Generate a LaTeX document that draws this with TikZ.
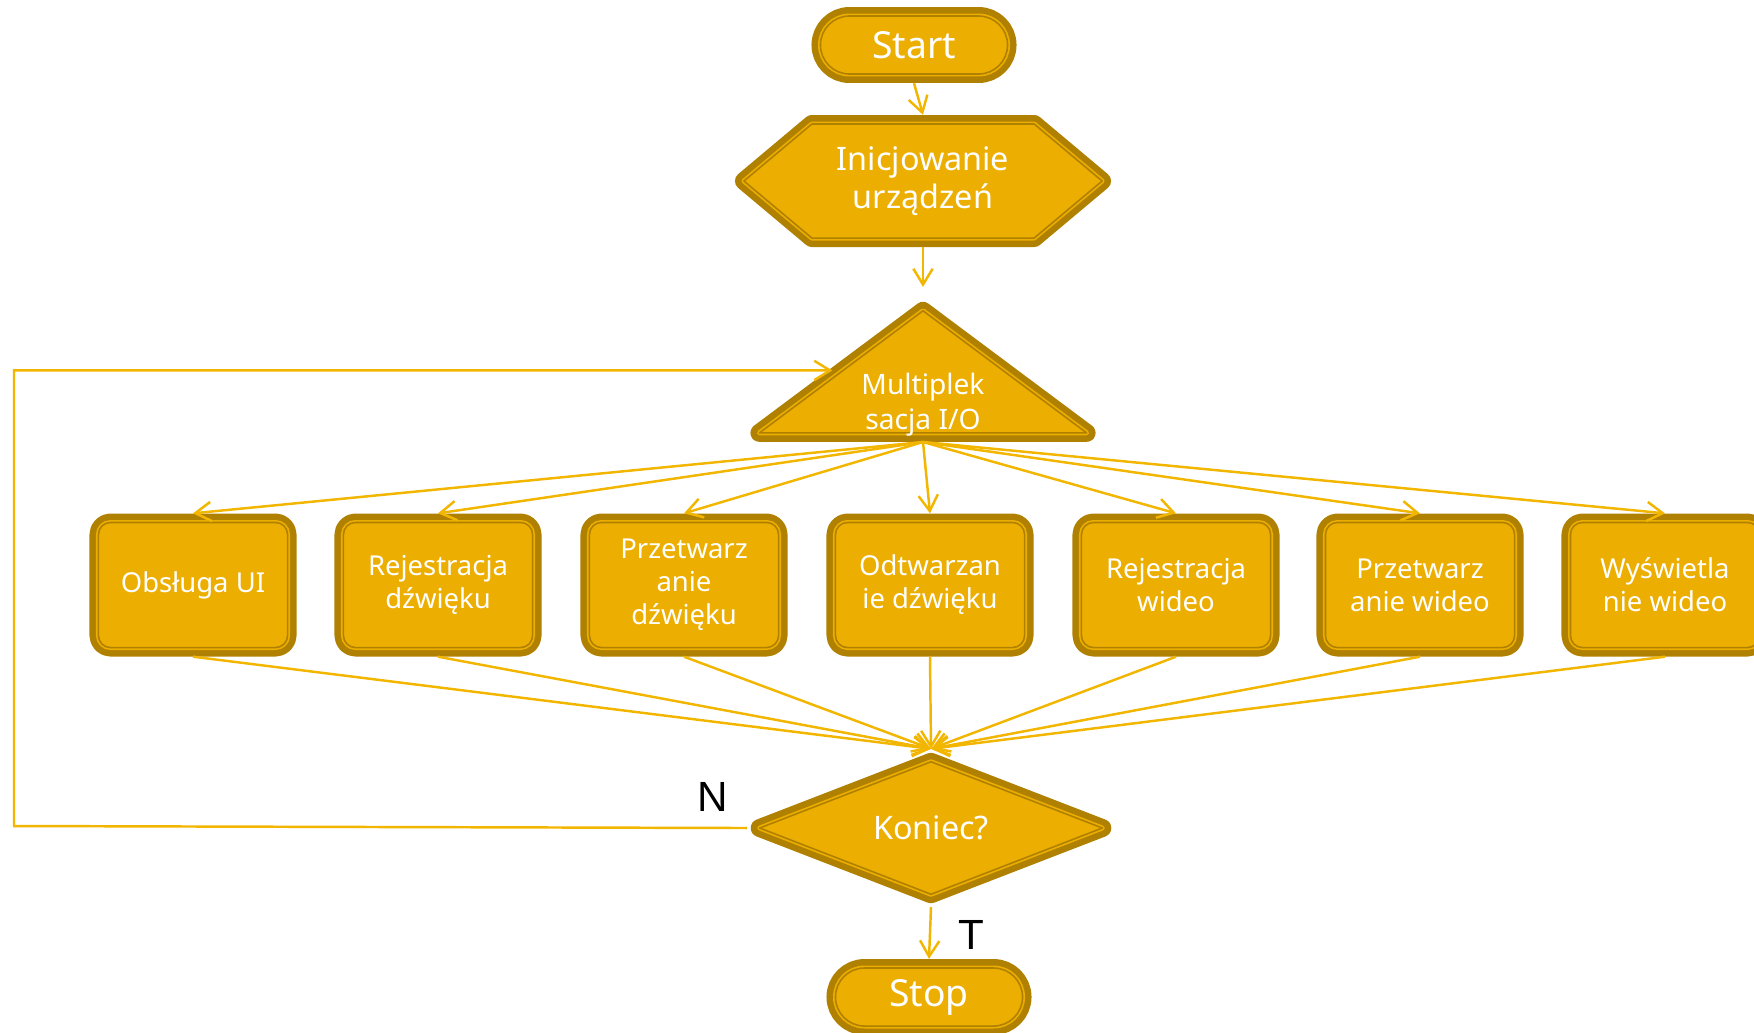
\documentclass[tikz,border=0pt]{standalone}
\usepackage{fontspec}
\setmainfont{Noto Sans}
\newfontfamily\answerfont{Liberation Sans}
\usetikzlibrary{shapes.geometric,shapes.misc,shapes.symbols,arrows.meta}

\definecolor{gold}{RGB}{236,174,0}
\definecolor{golddark}{RGB}{176,128,0}
\definecolor{goldline}{RGB}{242,182,0}

\tikzset{
  framed/.style={fill=gold, draw=gold, line width=1.4pt, line join=round,
    preaction={draw=golddark, line width=5.1pt, line join=round},
    postaction={draw=golddark, line width=0.45pt, line join=round},
    outer sep=2.6pt, inner sep=0pt, text=white, align=center},
  terminal/.style={framed, rounded rectangle, minimum width=1.87cm, minimum height=0.58cm,
    font=\fontsize{10.6}{12}\selectfont},
  prep/.style={framed, signal, signal to=west and east, signal pointer angle=80,
    minimum width=3.58cm, minimum height=1.14cm,
    font=\fontsize{9.2}{10.9}\selectfont},
  mux/.style={framed, isosceles triangle, shape border rotate=90, isosceles triangle stretches,
    minimum width=3.27cm, minimum height=1.22cm},
  muxtext/.style={text=white, align=center, inner sep=0pt, font=\fontsize{8}{10}\selectfont},
  task/.style={framed, rectangle, rounded corners=0.12cm, minimum width=1.89cm,
    minimum height=1.25cm, font=\fontsize{7.8}{9.4}\selectfont},
  decision/.style={framed, diamond, minimum width=3.5cm, minimum height=1.4cm,
    font=\fontsize{9.2}{11}\selectfont},
  conn/.style={draw=goldline, line width=0.7pt, -{Straight Barb[length=4.5pt,width=5.5pt]}},
  answer/.style={text=black, font=\answerfont\fontsize{12}{14}\selectfont}
}

\begin{document}
\begin{tikzpicture}[x=0.01cm, y=-0.01cm]
\useasboundingbox (0,0) rectangle (1754,1032);

\node [terminal] (start) at (914,45) {Start};
\node [prep] (init) at (923,181) {Inicjowanie\\urządzeń};
\node [mux, anchor=south,
  label={[muxtext, anchor=south, yshift=0.05cm]south:{Multiplek\\sacja I/O}}]
  (multi) at (923,442) {};

\node [task] (ui) at (193,585) {Obsługa UI};
\node [task] (recaudio) at (438,585) {Rejestracja\\dźwięku};
\node [task] (procaudio) at (684,585) {Przetwarz\\anie\\dźwięku};
\node [task] (playaudio) at (930,585) {Odtwarzan\\ie dźwięku};
\node [task] (recvideo) at (1176,585) {Rejestracja\\wideo};
\node [task] (procvideo) at (1420,585) {Przetwarz\\anie wideo};
\node [task] (showvideo) at (1665,585) {Wyświetla\\nie wideo};

\node [decision] (end) at (931,828) {Koniec?};
\node [terminal] (stop) at (929,997) {Stop};

\node [answer] (no) at (713,797) {N};
\node [answer] (yes) at (971,935) {T};
\coordinate (loop) at (14,826);

\draw [conn] (start.south) -- (init.north);
\draw [conn] (init.south) -- (multi.north);

\draw [conn] (multi.south) -- (ui.north);
\draw [conn] (multi.south) -- (recaudio.north);
\draw [conn] (multi.south) -- (procaudio.north);
\draw [conn] (multi.south) -- (playaudio.north);
\draw [conn] (multi.south) -- (recvideo.north);
\draw [conn] (multi.south) -- (procvideo.north);
\draw [conn] (multi.south) -- (showvideo.north);

\draw [conn] (ui.south) -- (end.north);
\draw [conn] (recaudio.south) -- (end.north);
\draw [conn] (procaudio.south) -- (end.north);
\draw [conn] (playaudio.south) -- (end.north);
\draw [conn] (recvideo.south) -- (end.north);
\draw [conn] (procvideo.south) -- (end.north);
\draw [conn] (showvideo.south) -- (end.north);

\draw [conn] (end.south) -- (stop.north);
\draw [conn] (end.west) -- (loop) |- ([xshift=0.05cm, yshift=-0.06cm]multi.left side);
\end{tikzpicture}
\end{document}
